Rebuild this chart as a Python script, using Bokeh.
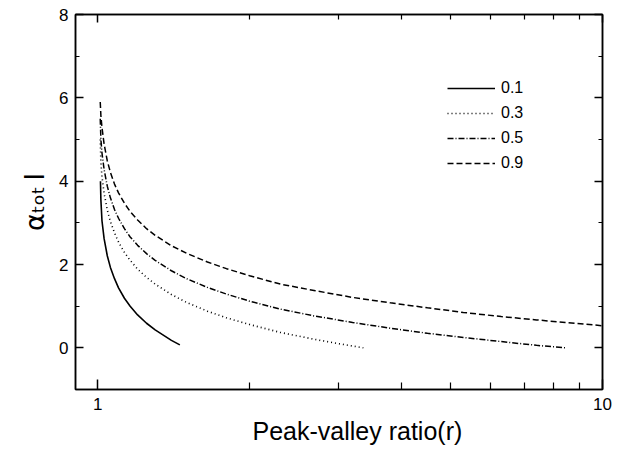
from bokeh.plotting import figure
from bokeh.models import (Range1d, FixedTicker, LinearAxis, LogAxis, Legend,
                          LegendItem, Title)
from bokeh.embed import file_html
from bokeh.resources import INLINE

# ---- data ----
r_01 = [1.013, 1.015, 1.02, 1.03, 1.045, 1.06, 1.08, 1.10, 1.13, 1.16, 1.20, 1.25, 1.30, 1.40, 1.455]
v_01 = [4.0, 3.55, 3.05, 2.62, 2.21, 1.93, 1.66, 1.44, 1.19, 1.00, 0.79, 0.59, 0.43, 0.18, 0.07]

r_03 = [1.012, 1.015, 1.02, 1.03, 1.045, 1.06, 1.08, 1.10, 1.13, 1.16, 1.20, 1.25, 1.30,
        1.40, 1.50, 1.65, 1.80, 2.00, 2.30, 2.70, 3.00, 3.36]
v_03 = [5.0, 4.45, 4.11, 3.71, 3.31, 3.03, 2.76, 2.54, 2.29, 2.10, 1.89, 1.69, 1.53,
        1.28, 1.09, 0.88, 0.72, 0.56, 0.37, 0.20, 0.10, 0.0]

r_05 = [1.012, 1.015, 1.02, 1.03, 1.045, 1.06, 1.08, 1.10, 1.13, 1.16, 1.20, 1.25, 1.30,
        1.40, 1.50, 1.65, 1.80, 2.00, 2.30, 2.70, 3.20, 3.80, 4.50, 5.30, 6.30, 7.40, 8.44]
v_05 = [5.5, 5.0, 4.68, 4.28, 3.88, 3.60, 3.32, 3.11, 2.86, 2.66, 2.46, 2.26, 2.10,
        1.85, 1.66, 1.45, 1.29, 1.12, 0.93, 0.76, 0.61, 0.47, 0.35, 0.25, 0.15, 0.06, 0.0]

r_09 = [1.012, 1.015, 1.02, 1.03, 1.045, 1.06, 1.08, 1.10, 1.13, 1.16, 1.20, 1.25, 1.30,
        1.40, 1.50, 1.65, 1.80, 2.00, 2.30, 2.70, 3.20, 3.80, 4.50, 5.30, 6.30, 7.40, 8.44, 10.0]
v_09 = [5.9, 5.57, 5.29, 4.89, 4.49, 4.21, 3.93, 3.72, 3.47, 3.27, 3.07, 2.86, 2.70,
        2.45, 2.27, 2.06, 1.90, 1.73, 1.53, 1.37, 1.21, 1.08, 0.96, 0.85, 0.75, 0.67, 0.61, 0.53]

labels = ["0.1", "0.3", "0.5", "0.9"]
x_major = [1, 10]
x_minor = [2, 3, 4, 5, 6, 7, 8, 9]
y_major = [0, 2, 4, 6, 8]
y_minor = [-1, 1, 3, 5, 7]
x_title = "Peak-valley ratio(r)"
y_title = "αₜₒₜ\u2009l"

FONT = "Liberation Sans"

p = figure(width=624, height=452, x_axis_type="log",
           x_range=Range1d(0.904, 10), y_range=Range1d(-1, 8),
           output_backend="svg", toolbar_location=None,
           min_border_left=75, min_border_right=22,
           min_border_top=14, min_border_bottom=63)
p.grid.visible = False
p.outline_line_color = "black"
p.outline_line_width = 1.5
p.background_fill_color = "white"
p.border_fill_color = "white"

def style_axis(ax, show_labels=True):
    ax.major_tick_in = 8
    ax.major_tick_out = 0
    ax.minor_tick_in = 4
    ax.minor_tick_out = 0
    ax.axis_line_color = "black"
    ax.axis_line_width = 1.5
    ax.major_tick_line_width = 1.5
    ax.minor_tick_line_width = 1.2
    ax.major_label_text_font = FONT
    ax.major_label_text_font_size = "17px" if show_labels else "0px"
    ax.major_label_text_color = "black"

xb = p.xaxis[0]
xb.ticker = FixedTicker(ticks=x_major, minor_ticks=x_minor)
xb.major_label_overrides = {1: "1", 10: "10"}
style_axis(xb)
xb.major_tick_in = 10
xb.minor_tick_in = 7
xb.major_label_standoff = 8

yl = p.yaxis[0]
yl.ticker = FixedTicker(ticks=y_major, minor_ticks=y_minor)
style_axis(yl)
yl.major_label_standoff = 7
yl.axis_label = y_title
yl.axis_label_text_font = "DejaVu Sans"
yl.axis_label_text_font_size = "27px"
yl.axis_label_text_font_style = "normal"
yl.axis_label_text_color = "black"
yl.axis_label_standoff = 6

xt = LogAxis(ticker=FixedTicker(ticks=x_major, minor_ticks=x_minor))
style_axis(xt, show_labels=False)
xt.minor_tick_in = 5
xt.major_label_overrides = {1: "", 10: ""}
p.add_layout(xt, "above")

yr = LinearAxis(ticker=FixedTicker(ticks=y_major, minor_ticks=y_minor))
style_axis(yr, show_labels=False)
yr.major_label_overrides = {v: "" for v in y_major}
p.add_layout(yr, "right")

# x-axis title (slightly right of the frame centre, as in the reference)
p.add_layout(Title(text=x_title, align="left", offset=177,
                   text_font=FONT, text_font_size="25px", text_font_style="normal",
                   text_color="black", standoff=4), "below")

g1 = p.line(r_01, v_01, line_color="black", line_width=1.6)
g2 = p.line(r_03, v_03, line_color="black", line_width=1.6, line_dash="1 3")
g3 = p.line(r_05, v_05, line_color="black", line_width=1.5, line_dash="6 2 1 2")
g4 = p.line(r_09, v_09, line_color="black", line_width=1.5, line_dash="6 3")

legend = Legend(items=[LegendItem(label=labels[0], renderers=[g1]),
                       LegendItem(label=labels[1], renderers=[g2]),
                       LegendItem(label=labels[2], renderers=[g3]),
                       LegendItem(label=labels[3], renderers=[g4])],
                location=(372, 216))
legend.border_line_color = None
legend.background_fill_alpha = 0
legend.glyph_width = 48
legend.glyph_height = 20
legend.label_height = 20
legend.spacing = 5
legend.padding = 0
legend.margin = 0
legend.label_standoff = 6
legend.label_text_font = FONT
legend.label_text_font_size = "16px"
legend.label_text_color = "black"
p.add_layout(legend)

open("out.html", "w").write(file_html(p, INLINE))
